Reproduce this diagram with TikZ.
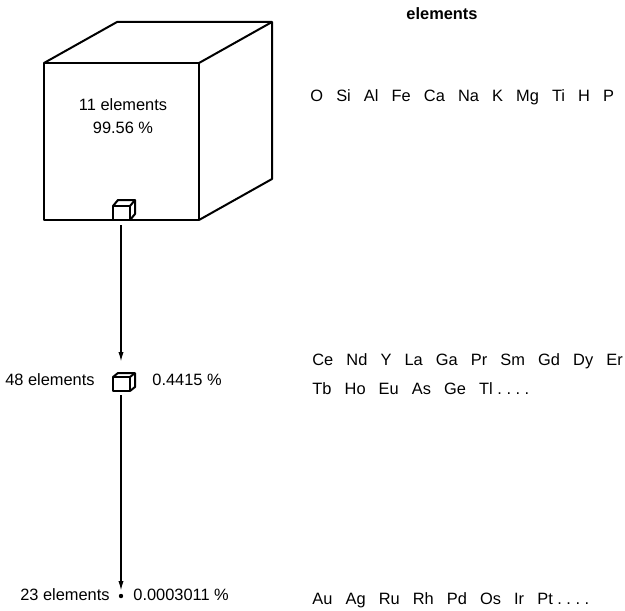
\documentclass[tikz,border=0pt]{standalone}
\usepackage{fontspec}
\setmainfont{Liberation Sans}
\usetikzlibrary{arrows.meta}
% cube: front top-left corner, width, height, depth offset
\newcommand{\cubeat}[6]{%
  \draw[cubeline] (#1,#2) rectangle ++(#3,#4);
  \draw[cubeline] (#1,#2) -- ++(#5,#6) -- ++(#3,0) -- ++(0,#4) -- ++(-#5,-#6);
  \draw[cubeline] (#1+#3,#2) -- ++(#5,#6);}
\newcommand{\elgap}{\hspace{0.8em}}

\begin{document}
\begin{tikzpicture}[x=0.5pt,y=-0.5pt,
  lbl/.style={font=\fontsize{8.2}{10}\selectfont,inner sep=0},
  cubeline/.style={line width=1pt,line join=round},
  flow/.style={line width=0.75pt,-{Latex[length=5pt,width=2.6pt]}}]
\useasboundingbox (0,0) rectangle (625,610);
\frenchspacing

% cubes
\cubeat{44}{63}{155}{157}{73}{-41}
\cubeat{113}{206}{17}{14}{5}{-6}
\cubeat{113}{377}{17}{14}{5}{-4}
\node[circle,fill,inner sep=0,minimum size=2.2pt] (dot) at (121,596) {};

\coordinate (c1) at (121,225);
\coordinate (a1) at (121,362);
\coordinate (c2) at (121,395);
\coordinate (a2) at (121,591);
\draw[flow] (c1) -- (a1);
\draw[flow] (c2) -- (a2);

% labels
\node[lbl,font=\fontsize{8.2}{10}\selectfont\bfseries] (head) at (442,14) {elements};
\node[lbl] (n1) at (123,105) {11 elements};
\node[lbl] (p1) at (123,128) {99.56 \%};
\node[lbl,anchor=east] (n2) at (95,380) {48 elements};
\node[lbl,anchor=west] (p2) at (152,380) {0.4415 \%};
\node[lbl,anchor=east] (n3) at (110,595) {23 elements};
\node[lbl,anchor=west] (p3) at (133,595) {0.0003011 \%};

% element lists
\node[lbl,anchor=west] (e1) at (310,97)
  {O\elgap Si\elgap Al\elgap Fe\elgap Ca\elgap Na\elgap K\elgap Mg\elgap Ti\elgap H\elgap P};
\node[lbl,anchor=west] (e2) at (312,361)
  {Ce\elgap Nd\elgap Y\elgap La\elgap Ga\elgap Pr\elgap Sm\elgap Gd\elgap Dy\elgap Er};
\node[lbl,anchor=west] (e3) at (312,389)
  {Tb\elgap Ho\elgap Eu\elgap As\elgap Ge\elgap Tl\ .\ .\ .\ .};
\node[lbl,anchor=west] (e4) at (312,600)
  {Au\elgap Ag\elgap Ru\elgap Rh\elgap Pd\elgap Os\elgap Ir\elgap Pt\ .\ .\ .\ .};
\end{tikzpicture}
\end{document}
